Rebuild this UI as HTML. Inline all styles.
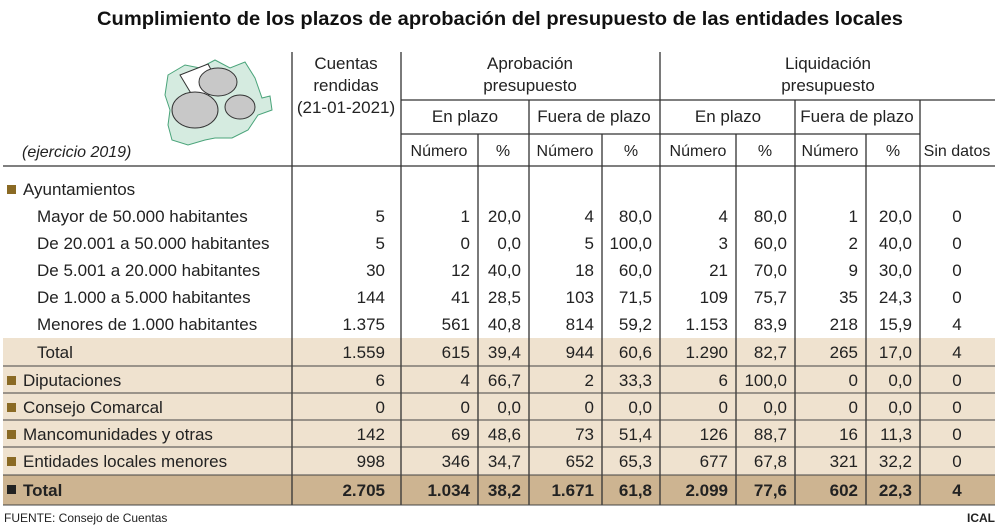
<!DOCTYPE html>
<html><head><meta charset="utf-8"><style>
html,body{margin:0;padding:0;background:#fff;}
svg{display:block;font-family:"Liberation Sans",sans-serif;}
</style></head><body>
<svg width="1000" height="530" viewBox="0 0 1000 530" xmlns="http://www.w3.org/2000/svg">
<text x="500" y="25" text-anchor="middle" font-size="19" font-weight="bold" fill="#111" textLength="806" lengthAdjust="spacingAndGlyphs">Cumplimiento de los plazos de aprobación del presupuesto de las entidades locales</text>
<rect x="3" y="338" width="992" height="137" fill="#efe2cf"/>
<rect x="3" y="475" width="992" height="30" fill="#cdb491"/>
<g>
<path d="M168,75 L185,65 L200,68 L215,60 L230,68 L245,62 L255,78 L262,98 L270,96 L272,110 L258,115 L248,130 L232,138 L215,138 L205,140 L188,145 L172,140 L168,125 L170,110 L165,95 Z" fill="#d5ebe0" stroke="#4aa47a" stroke-width="1"/>
<path d="M180,75 L208,64 L222,90 L195,100 Z" fill="#fff" stroke="#333" stroke-width="1"/>
<ellipse cx="218" cy="82" rx="19" ry="14" fill="#c8c8c8" stroke="#333"/>
<ellipse cx="195" cy="110" rx="23" ry="18" fill="#c8c8c8" stroke="#333"/>
<ellipse cx="240" cy="107" rx="15" ry="12" fill="#c8c8c8" stroke="#333"/>
</g>
<text x="22" y="157" font-size="16" font-style="italic" fill="#222">(ejercicio 2019)</text>
<g font-size="17" fill="#222" text-anchor="middle">
<text x="346" y="69">Cuentas</text>
<text x="346" y="91">rendidas</text>
<text x="346" y="113">(21-01-2021)</text>
<text x="530" y="69">Aprobación</text>
<text x="530" y="91">presupuesto</text>
<text x="828" y="69">Liquidación</text>
<text x="828" y="91">presupuesto</text>
<text x="465" y="122">En plazo</text>
<text x="594" y="122">Fuera de plazo</text>
<text x="728" y="122">En plazo</text>
<text x="857" y="122">Fuera de plazo</text>
<g font-size="16">
<text x="439" y="156">Número</text><text x="503" y="156">%</text>
<text x="565" y="156">Número</text><text x="631" y="156">%</text>
<text x="698" y="156">Número</text><text x="765" y="156">%</text>
<text x="830" y="156">Número</text><text x="893" y="156">%</text>
<text x="957" y="156">Sin datos</text>
</g>
</g>
<g stroke="#333" stroke-width="1.3">
<line x1="401" y1="100" x2="995" y2="100"/>
<line x1="401" y1="134" x2="920" y2="134"/>
<line x1="3" y1="166" x2="995" y2="166"/>
<line x1="292" y1="52" x2="292" y2="505"/>
<line x1="401" y1="52" x2="401" y2="505"/>
<line x1="660" y1="52" x2="660" y2="505"/>
<line x1="529" y1="100" x2="529" y2="505"/>
<line x1="795" y1="100" x2="795" y2="505"/>
<line x1="920" y1="100" x2="920" y2="505"/>
<line x1="478" y1="134" x2="478" y2="505"/>
<line x1="602" y1="134" x2="602" y2="505"/>
<line x1="736" y1="134" x2="736" y2="505"/>
<line x1="866" y1="134" x2="866" y2="505"/>
</g>
<g stroke="#444" stroke-width="1">
<line x1="3" y1="366" x2="995" y2="366"/>
<line x1="3" y1="393" x2="995" y2="393"/>
<line x1="3" y1="420" x2="995" y2="420"/>
<line x1="3" y1="447" x2="995" y2="447"/>
<line x1="3" y1="475" x2="995" y2="475"/>
<line x1="3" y1="505" x2="995" y2="505"/>
</g>
<g fill="#8a6a24">
<rect x="7" y="185" width="9" height="9"/>
<rect x="7" y="376" width="9" height="9"/>
<rect x="7" y="403" width="9" height="9"/>
<rect x="7" y="430" width="9" height="9"/>
<rect x="7" y="457" width="9" height="9"/>
</g>
<rect x="7" y="485" width="9" height="9" fill="#222"/>
<g font-size="17" fill="#222">
<text x="23" y="195">Ayuntamientos</text>
<text x="37" y="222">Mayor de 50.000 habitantes</text>
<text x="37" y="249">De 20.001 a 50.000 habitantes</text>
<text x="37" y="276">De 5.001 a 20.000 habitantes</text>
<text x="37" y="303">De 1.000 a 5.000 habitantes</text>
<text x="37" y="330">Menores de 1.000 habitantes</text>
<text x="37" y="358">Total</text>
<text x="23" y="386">Diputaciones</text>
<text x="23" y="413">Consejo Comarcal</text>
<text x="23" y="440">Mancomunidades y otras</text>
<text x="23" y="467">Entidades locales menores</text>
<text x="23" y="496" font-weight="bold">Total</text>
</g>
<g font-size="17" fill="#222" text-anchor="end">
<g><text x="385" y="222">5</text><text x="470" y="222">1</text><text x="521" y="222">20,0</text><text x="594" y="222">4</text><text x="652" y="222">80,0</text><text x="728" y="222">4</text><text x="787" y="222">80,0</text><text x="858" y="222">1</text><text x="912" y="222">20,0</text><text x="957" y="222" text-anchor="middle">0</text></g>
<g><text x="385" y="249">5</text><text x="470" y="249">0</text><text x="521" y="249">0,0</text><text x="594" y="249">5</text><text x="652" y="249">100,0</text><text x="728" y="249">3</text><text x="787" y="249">60,0</text><text x="858" y="249">2</text><text x="912" y="249">40,0</text><text x="957" y="249" text-anchor="middle">0</text></g>
<g><text x="385" y="276">30</text><text x="470" y="276">12</text><text x="521" y="276">40,0</text><text x="594" y="276">18</text><text x="652" y="276">60,0</text><text x="728" y="276">21</text><text x="787" y="276">70,0</text><text x="858" y="276">9</text><text x="912" y="276">30,0</text><text x="957" y="276" text-anchor="middle">0</text></g>
<g><text x="385" y="303">144</text><text x="470" y="303">41</text><text x="521" y="303">28,5</text><text x="594" y="303">103</text><text x="652" y="303">71,5</text><text x="728" y="303">109</text><text x="787" y="303">75,7</text><text x="858" y="303">35</text><text x="912" y="303">24,3</text><text x="957" y="303" text-anchor="middle">0</text></g>
<g><text x="385" y="330">1.375</text><text x="470" y="330">561</text><text x="521" y="330">40,8</text><text x="594" y="330">814</text><text x="652" y="330">59,2</text><text x="728" y="330">1.153</text><text x="787" y="330">83,9</text><text x="858" y="330">218</text><text x="912" y="330">15,9</text><text x="957" y="330" text-anchor="middle">4</text></g>
<g><text x="385" y="358">1.559</text><text x="470" y="358">615</text><text x="521" y="358">39,4</text><text x="594" y="358">944</text><text x="652" y="358">60,6</text><text x="728" y="358">1.290</text><text x="787" y="358">82,7</text><text x="858" y="358">265</text><text x="912" y="358">17,0</text><text x="957" y="358" text-anchor="middle">4</text></g>
<g><text x="385" y="386">6</text><text x="470" y="386">4</text><text x="521" y="386">66,7</text><text x="594" y="386">2</text><text x="652" y="386">33,3</text><text x="728" y="386">6</text><text x="787" y="386">100,0</text><text x="858" y="386">0</text><text x="912" y="386">0,0</text><text x="957" y="386" text-anchor="middle">0</text></g>
<g><text x="385" y="413">0</text><text x="470" y="413">0</text><text x="521" y="413">0,0</text><text x="594" y="413">0</text><text x="652" y="413">0,0</text><text x="728" y="413">0</text><text x="787" y="413">0,0</text><text x="858" y="413">0</text><text x="912" y="413">0,0</text><text x="957" y="413" text-anchor="middle">0</text></g>
<g><text x="385" y="440">142</text><text x="470" y="440">69</text><text x="521" y="440">48,6</text><text x="594" y="440">73</text><text x="652" y="440">51,4</text><text x="728" y="440">126</text><text x="787" y="440">88,7</text><text x="858" y="440">16</text><text x="912" y="440">11,3</text><text x="957" y="440" text-anchor="middle">0</text></g>
<g><text x="385" y="467">998</text><text x="470" y="467">346</text><text x="521" y="467">34,7</text><text x="594" y="467">652</text><text x="652" y="467">65,3</text><text x="728" y="467">677</text><text x="787" y="467">67,8</text><text x="858" y="467">321</text><text x="912" y="467">32,2</text><text x="957" y="467" text-anchor="middle">0</text></g>
<g font-weight="bold"><text x="385" y="496">2.705</text><text x="470" y="496">1.034</text><text x="521" y="496">38,2</text><text x="594" y="496">1.671</text><text x="652" y="496">61,8</text><text x="728" y="496">2.099</text><text x="787" y="496">77,6</text><text x="858" y="496">602</text><text x="912" y="496">22,3</text><text x="957" y="496" text-anchor="middle">4</text></g>
</g>
<text x="4" y="522" font-size="12" fill="#222">FUENTE: Consejo de Cuentas</text>
<text x="995" y="522" font-size="12" font-weight="bold" fill="#222" text-anchor="end">ICAL</text>
</svg>
</body></html>
